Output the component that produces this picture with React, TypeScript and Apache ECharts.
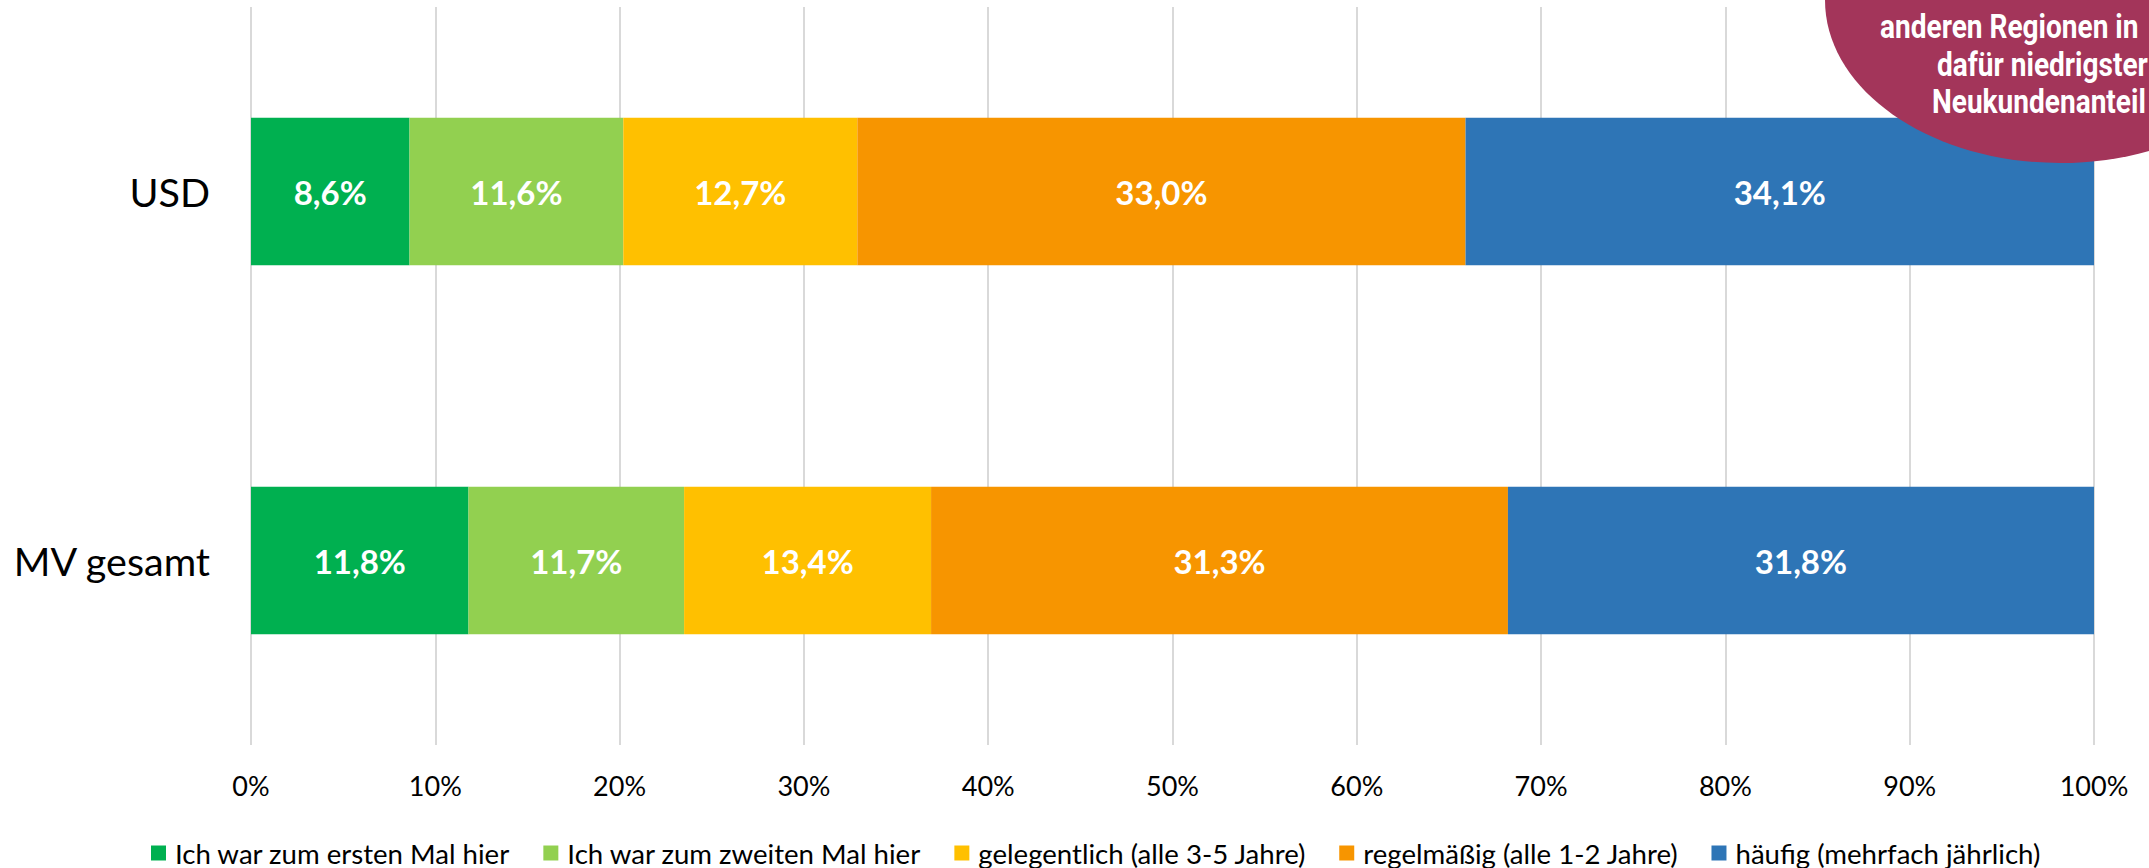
import React, { useEffect, useRef } from "react";
import * as echarts from "echarts";

const categories = ["USD", "MV gesamt"];
const seriesNames = [
  "Ich war zum ersten Mal hier",
  "Ich war zum zweiten Mal hier",
  "gelegentlich (alle 3-5 Jahre)",
  "regelmäßig (alle 1-2 Jahre)",
  "häufig (mehrfach jährlich)",
];
const erstesMal = [8.6, 11.8];
const zweitesMal = [11.6, 11.7];
const gelegentlich = [12.7, 13.4];
const regelmaessig = [33.0, 31.3];
const haeufig = [34.1, 31.8];
const colors = ["#00B050", "#92D050", "#FFC000", "#F79500", "#2E75B6"];
const badgeLines = ["anderen Regionen in", "dafür niedrigster", "Neukundenanteil"];

export default function App() {
  const ref = useRef<HTMLDivElement>(null);
  useEffect(() => {
    if (!ref.current) return;
    const chart = echarts.init(ref.current, undefined, { renderer: "svg" });
    const values = [erstesMal, zweitesMal, gelegentlich, regelmaessig, haeufig];
    const fmt = (v: number) => v.toFixed(1).replace(".", ",") + "%";
    const lineX = [1880, 1937, 1932];
    const lineY = [27, 65, 102];
    chart.setOption({
      animation: false,
      backgroundColor: "#fff",
      textStyle: { fontFamily: "Lato" },
      grid: { left: 251, right: 55, top: 7, bottom: 123, containLabel: false },
      xAxis: {
        type: "value",
        min: 0,
        max: 100,
        interval: 10,
        axisLine: { show: false },
        axisTick: { show: false },
        splitLine: { show: true, lineStyle: { color: "#D9D9D9", width: 2 } },
        axisLabel: {
          formatter: "{value}%",
          color: "#000",
          fontSize: 27,
          fontFamily: "Lato",
          margin: 27,
        },
      },
      yAxis: {
        type: "category",
        inverse: true,
        data: categories,
        axisLine: { show: false },
        axisTick: { show: false },
        splitLine: { show: false },
        axisLabel: { color: "#000", fontSize: 39.5, fontFamily: "Lato", margin: 41 },
      },
      legend: {
        left: 146,
        top: 834,
        itemWidth: 15,
        itemHeight: 15,
        itemGap: 33,
        icon: "rect",
        textStyle: { color: "#000", fontSize: 27.6, fontFamily: "Lato", padding: [0, 0, 0, 4] },
        data: seriesNames,
      },
      series: seriesNames.map((name, i) => ({
        name,
        type: "bar",
        stack: "total",
        barWidth: "40%",
        itemStyle: { color: colors[i] },
        label: {
          show: true,
          position: "inside",
          color: "#fff",
          fontWeight: "bold",
          fontSize: 33,
          fontFamily: "Lato",
          formatter: (p: any) => fmt(p.value),
        },
        data: values[i],
      })),
      graphic: [
        {
          type: "ellipse",
          z: 100,
          shape: { cx: 2060, cy: 0, rx: 235, ry: 163 },
          style: { fill: "#A3355A" },
        },
        ...badgeLines.map((t, i) => ({
          type: "text",
          z: 101,
          x: lineX[i],
          y: lineY[i],
          scaleX: 0.85,
          style: {
            text: t,
            fill: "#fff",
            fontFamily: "Roboto",
            fontWeight: "bold",
            fontSize: 33,
            align: "left",
            verticalAlign: "middle",
          },
        })),
      ],
    });
    return () => chart.dispose();
  }, []);
  return (
    <div
      ref={ref}
      style={{ position: "fixed", left: 0, top: 0, width: 2149, height: 868 }}
    />
  );
}
